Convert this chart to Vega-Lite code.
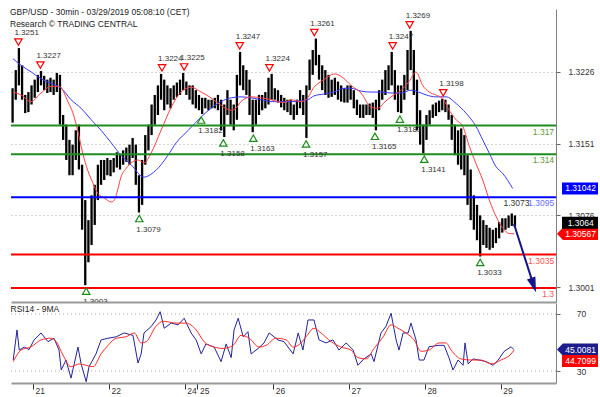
{
"$schema": "https://vega.github.io/schema/vega-lite/v6.json",
"padding": {"left": 10, "top": 8, "right": 0, "bottom": 0},
"background": "white",
"config": {"font": "Liberation Sans", "view": {"stroke": null}},
"title": {"text": ["GBP/USD - 30min - 03/29/2019 05:08:10 (CET)", "Research © TRADING CENTRAL"], "anchor": "start", "offset": -19, "fontSize": 8.5, "fontWeight": "normal", "color": "#222", "lineHeight": 11.5, "font": "Liberation Sans"},
"spacing": 1,
"datasets": {
"candles": [
{"t":-6.5,"hi":1.3209,"lo":1.3173},{"t":-5.5,"hi":1.3228,"lo":1.3197},{"t":-4.5,"hi":1.3251,"lo":1.3212},{"t":-3.5,"hi":1.3233,"lo":1.3197},{"t":-2.5,"hi":1.3202,"lo":1.3183},{"t":-1.5,"hi":1.3205,"lo":1.3184},{"t":-0.5,"hi":1.3212,"lo":1.3192},
{"t":0.5,"hi":1.3218,"lo":1.3199},{"t":1.5,"hi":1.3223,"lo":1.3205},{"t":2.5,"hi":1.3227,"lo":1.3212},{"t":3.5,"hi":1.3222,"lo":1.3207},{"t":4.5,"hi":1.3218,"lo":1.3204},{"t":5.5,"hi":1.3220,"lo":1.3205},{"t":6.5,"hi":1.3218,"lo":1.3202},{"t":7.5,"hi":1.3225,"lo":1.3205},{"t":8.5,"hi":1.3223,"lo":1.3171},{"t":9.5,"hi":1.3181,"lo":1.3155},{"t":10.5,"hi":1.3171,"lo":1.3134},{"t":11.5,"hi":1.3155,"lo":1.3118},{"t":12.5,"hi":1.3150,"lo":1.3118},{"t":13.5,"hi":1.3165,"lo":1.3134},{"t":14.5,"hi":1.3171,"lo":1.3124},{"t":15.5,"hi":1.3129,"lo":1.3061},{"t":16.5,"hi":1.3092,"lo":1.3003},{"t":17.5,"hi":1.3071,"lo":1.3027},{"t":18.5,"hi":1.3097,"lo":1.3045},{"t":19.5,"hi":1.3108,"lo":1.3066},{"t":20.5,"hi":1.3129,"lo":1.3092},{"t":21.5,"hi":1.3134,"lo":1.3108},{"t":22.5,"hi":1.3134,"lo":1.3113},{"t":23.5,"hi":1.3136,"lo":1.3118},
{"t":24.5,"hi":1.3134,"lo":1.3117},{"t":25.5,"hi":1.3136,"lo":1.3121},{"t":26.5,"hi":1.3142,"lo":1.3126},{"t":27.5,"hi":1.3139,"lo":1.3124},{"t":28.5,"hi":1.3144,"lo":1.3129},{"t":29.5,"hi":1.3147,"lo":1.3132},{"t":30.5,"hi":1.3150,"lo":1.3129},{"t":31.5,"hi":1.3157,"lo":1.3136},{"t":32.5,"hi":1.3150,"lo":1.3108},{"t":33.5,"hi":1.3118,"lo":1.3079},{"t":34.5,"hi":1.3134,"lo":1.3087},{"t":35.5,"hi":1.3160,"lo":1.3129},{"t":36.5,"hi":1.3171,"lo":1.3144},{"t":37.5,"hi":1.3192,"lo":1.3160},{"t":38.5,"hi":1.3202,"lo":1.3171},{"t":39.5,"hi":1.3212,"lo":1.3181},{"t":40.5,"hi":1.3224,"lo":1.3197},{"t":41.5,"hi":1.3218,"lo":1.3186},{"t":42.5,"hi":1.3212,"lo":1.3192},{"t":43.5,"hi":1.3209,"lo":1.3188},{"t":44.5,"hi":1.3212,"lo":1.3197},{"t":45.5,"hi":1.3215,"lo":1.3200},{"t":46.5,"hi":1.3218,"lo":1.3202},{"t":47.5,"hi":1.3225,"lo":1.3207},
{"t":48.5,"hi":1.3216,"lo":1.3202},{"t":49.5,"hi":1.3212,"lo":1.3197},{"t":50.5,"hi":1.3212,"lo":1.3192},{"t":51.5,"hi":1.3207,"lo":1.3188},
{"t":52.5,"hi":1.3202,"lo":1.3186},{"t":53.5,"hi":1.3199,"lo":1.3182},{"t":54.5,"hi":1.3199,"lo":1.3188},{"t":55.5,"hi":1.3197,"lo":1.3186},{"t":56.5,"hi":1.3197,"lo":1.3188},{"t":57.5,"hi":1.3199,"lo":1.3188},{"t":58.5,"hi":1.3202,"lo":1.3186},{"t":59.5,"hi":1.3197,"lo":1.3165},{"t":60.5,"hi":1.3192,"lo":1.3158},{"t":61.5,"hi":1.3207,"lo":1.3181},{"t":62.5,"hi":1.3197,"lo":1.3171},{"t":63.5,"hi":1.3192,"lo":1.3165},{"t":64.5,"hi":1.3223,"lo":1.3176},{"t":65.5,"hi":1.3247,"lo":1.3212},{"t":66.5,"hi":1.3233,"lo":1.3207},{"t":67.5,"hi":1.3228,"lo":1.3202},{"t":68.5,"hi":1.3218,"lo":1.3181},{"t":69.5,"hi":1.3197,"lo":1.3163},{"t":70.5,"hi":1.3197,"lo":1.3171},{"t":71.5,"hi":1.3202,"lo":1.3181},{"t":72.5,"hi":1.3202,"lo":1.3186},{"t":73.5,"hi":1.3205,"lo":1.3188},{"t":74.5,"hi":1.3220,"lo":1.3192},{"t":75.5,"hi":1.3224,"lo":1.3197},
{"t":76.5,"hi":1.3209,"lo":1.3197},{"t":77.5,"hi":1.3207,"lo":1.3194},{"t":78.5,"hi":1.3202,"lo":1.3189},{"t":79.5,"hi":1.3199,"lo":1.3186},{"t":80.5,"hi":1.3197,"lo":1.3184},{"t":81.5,"hi":1.3197,"lo":1.3181},{"t":82.5,"hi":1.3192,"lo":1.3176},{"t":83.5,"hi":1.3197,"lo":1.3181},{"t":84.5,"hi":1.3207,"lo":1.3188},{"t":85.5,"hi":1.3202,"lo":1.3181},{"t":86.5,"hi":1.3212,"lo":1.3157},{"t":87.5,"hi":1.3239,"lo":1.3207},{"t":88.5,"hi":1.3249,"lo":1.3223},{"t":89.5,"hi":1.3261,"lo":1.3233},{"t":90.5,"hi":1.3244,"lo":1.3218},{"t":91.5,"hi":1.3233,"lo":1.3207},{"t":92.5,"hi":1.3228,"lo":1.3202},{"t":93.5,"hi":1.3223,"lo":1.3199},{"t":94.5,"hi":1.3218,"lo":1.3200},{"t":95.5,"hi":1.3220,"lo":1.3202},{"t":96.5,"hi":1.3216,"lo":1.3197},{"t":97.5,"hi":1.3212,"lo":1.3195},{"t":98.5,"hi":1.3209,"lo":1.3194},{"t":99.5,"hi":1.3212,"lo":1.3194},
{"t":100.5,"hi":1.3212,"lo":1.3197},{"t":101.5,"hi":1.3207,"lo":1.3188},{"t":102.5,"hi":1.3197,"lo":1.3181},{"t":103.5,"hi":1.3192,"lo":1.3178},{"t":104.5,"hi":1.3192,"lo":1.3178},{"t":105.5,"hi":1.3192,"lo":1.3181},{"t":106.5,"hi":1.3193,"lo":1.3181},{"t":107.5,"hi":1.3194,"lo":1.3178},{"t":108.5,"hi":1.3197,"lo":1.3165},{"t":109.5,"hi":1.3207,"lo":1.3186},{"t":110.5,"hi":1.3218,"lo":1.3197},{"t":111.5,"hi":1.3228,"lo":1.3202},{"t":112.5,"hi":1.3233,"lo":1.3207},{"t":113.5,"hi":1.3247,"lo":1.3212},{"t":114.5,"hi":1.3228,"lo":1.3197},{"t":115.5,"hi":1.3212,"lo":1.3184},{"t":116.5,"hi":1.3212,"lo":1.3183},{"t":117.5,"hi":1.3223,"lo":1.3197},{"t":118.5,"hi":1.3249,"lo":1.3207},{"t":119.5,"hi":1.3269,"lo":1.3228},{"t":120.5,"hi":1.3249,"lo":1.3202},{"t":121.5,"hi":1.3218,"lo":1.3165},{"t":122.5,"hi":1.3186,"lo":1.3150},{"t":123.5,"hi":1.3171,"lo":1.3141},
{"t":124.5,"hi":1.3181,"lo":1.3155},{"t":125.5,"hi":1.3186,"lo":1.3171},{"t":126.5,"hi":1.3192,"lo":1.3178},{"t":127.5,"hi":1.3194,"lo":1.3180},{"t":128.5,"hi":1.3196,"lo":1.3184},{"t":129.5,"hi":1.3198,"lo":1.3186},{"t":130.5,"hi":1.3197,"lo":1.3184},{"t":131.5,"hi":1.3192,"lo":1.3176},{"t":132.5,"hi":1.3181,"lo":1.3155},{"t":133.5,"hi":1.3171,"lo":1.3139},{"t":134.5,"hi":1.3165,"lo":1.3129},{"t":135.5,"hi":1.3167,"lo":1.3124},{"t":136.5,"hi":1.3160,"lo":1.3118},{"t":137.5,"hi":1.3139,"lo":1.3087},{"t":138.5,"hi":1.3124,"lo":1.3071},{"t":139.5,"hi":1.3097,"lo":1.3061},{"t":140.5,"hi":1.3087,"lo":1.3050},{"t":141.5,"hi":1.3076,"lo":1.3033},{"t":142.5,"hi":1.3071,"lo":1.3045},{"t":143.5,"hi":1.3066,"lo":1.3042},{"t":144.5,"hi":1.3063,"lo":1.3040},{"t":145.5,"hi":1.3061,"lo":1.3042},{"t":146.5,"hi":1.3063,"lo":1.3047},{"t":147.5,"hi":1.3069,"lo":1.3052},
{"t":148.5,"hi":1.3073,"lo":1.3058},{"t":149.5,"hi":1.3073,"lo":1.3061},{"t":150.5,"hi":1.3076,"lo":1.3063},{"t":151.5,"hi":1.3078,"lo":1.3065},{"t":152.5,"hi":1.3076,"lo":1.3064}
],
"maFast": [
{"t":-6.4,"v":1.3205},{"t":-3.8,"v":1.3202},{"t":-0.7,"v":1.3195},{"t":2.5,"v":1.3204},{"t":5.7,"v":1.3211},{"t":8.3,"v":1.3211},{"t":11.0,"v":1.3195},{"t":12.6,"v":1.3183},{"t":14.1,"v":1.3165},{"t":15.7,"v":1.3141},{"t":17.3,"v":1.3123},{"t":18.9,"v":1.3110},{"t":20.5,"v":1.3099},{"t":22.6,"v":1.3094},{"t":24.7,"v":1.3090},{"t":25.7,"v":1.3092},{"t":26.8,"v":1.3103},{"t":27.8,"v":1.3116},{"t":29.4,"v":1.3125},{"t":31.5,"v":1.3132},{"t":33.1,"v":1.3134},{"t":35.2,"v":1.3131},{"t":37.3,"v":1.3141},{"t":40.5,"v":1.3165},{"t":43.7,"v":1.3189},{"t":46.8,"v":1.3205},{"t":50.0,"v":1.3210},{"t":53.2,"v":1.3205},{"t":56.3,"v":1.3199},{"t":59.5,"v":1.3191},{"t":62.7,"v":1.3186},{"t":64.2,"v":1.3188},{"t":65.8,"v":1.3195},{"t":69.0,"v":1.3200},{"t":72.2,"v":1.3199},{"t":75.3,"v":1.3197},{"t":79.4,"v":1.3194},{"t":81.6,"v":1.3197},{"t":84.8,"v":1.3195},{"t":86.4,"v":1.3197},{"t":88.9,"v":1.3210},{"t":92.1,"v":1.3218},{"t":95.3,"v":1.3224},{"t":98.1,"v":1.3220},{"t":100.6,"v":1.3212},{"t":103.8,"v":1.3204},{"t":107.0,"v":1.3189},{"t":109.2,"v":1.3188},{"t":111.1,"v":1.3194},{"t":113.3,"v":1.3200},{"t":116.5,"v":1.3207},{"t":119.0,"v":1.3216},{"t":121.2,"v":1.3226},{"t":123.3,"v":1.3212},{"t":125.4,"v":1.3205},{"t":127.5,"v":1.3202},{"t":129.7,"v":1.3198},{"t":131.7,"v":1.3186},{"t":133.9,"v":1.3176},{"t":136.0,"v":1.3169},{"t":138.1,"v":1.3148},{"t":140.2,"v":1.3130},{"t":142.3,"v":1.3113},{"t":144.4,"v":1.3092},{"t":146.5,"v":1.3075},{"t":148.6,"v":1.3063},{"t":150.7,"v":1.3057},{"t":152.3,"v":1.30567}
],
"maSlow": [
{"t":-6.4,"v":1.3240},{"t":-3.8,"v":1.3233},{"t":-0.6,"v":1.3226},{"t":2.5,"v":1.3219},{"t":5.7,"v":1.3214},{"t":8.9,"v":1.3209},{"t":12.0,"v":1.3197},{"t":15.2,"v":1.3188},{"t":18.4,"v":1.3176},{"t":21.5,"v":1.3165},{"t":24.7,"v":1.3152},{"t":27.8,"v":1.3139},{"t":31.0,"v":1.3129},{"t":35.1,"v":1.3116},{"t":37.3,"v":1.3119},{"t":40.5,"v":1.3129},{"t":42.7,"v":1.3139},{"t":45.3,"v":1.3152},{"t":49.1,"v":1.3165},{"t":53.2,"v":1.3179},{"t":56.3,"v":1.3188},{"t":59.5,"v":1.3195},{"t":62.7,"v":1.3199},{"t":65.8,"v":1.3200},{"t":69.0,"v":1.3199},{"t":72.2,"v":1.3197},{"t":75.3,"v":1.3195},{"t":81.6,"v":1.3195},{"t":86.9,"v":1.3197},{"t":88.9,"v":1.3201},{"t":92.1,"v":1.3203},{"t":95.3,"v":1.3205},{"t":98.4,"v":1.3209},{"t":100.6,"v":1.3209},{"t":103.8,"v":1.3206},{"t":107.0,"v":1.3205},{"t":110.1,"v":1.3205},{"t":113.3,"v":1.3204},{"t":116.5,"v":1.3204},{"t":119.6,"v":1.3207},{"t":122.8,"v":1.3204},{"t":124.4,"v":1.3202},{"t":127.5,"v":1.3200},{"t":130.7,"v":1.3200},{"t":133.9,"v":1.3193},{"t":137.0,"v":1.3183},{"t":140.2,"v":1.3169},{"t":142.3,"v":1.3155},{"t":144.4,"v":1.3141},{"t":146.5,"v":1.3127},{"t":148.6,"v":1.3120},{"t":151.8,"v":1.31042}
],
"levels": [
{"price":1.317,"label":"1.317","kind":"resistance"},{"price":1.314,"label":"1.314","kind":"resistance"},{"price":1.3095,"label":"1.3095","kind":"pivot"},{"price":1.3035,"label":"1.3035","kind":"support"},{"price":1.3,"label":"1.3","kind":"support"}
],
"pivots": [
{"t":-4.65,"price":1.3251,"label":"1.3251","type":"high"},{"t":2.3,"price":1.3227,"label":"1.3227","type":"high"},{"t":40.8,"price":1.3224,"label":"1.3224","type":"high"},{"t":47.8,"price":1.3225,"label":"1.3225","type":"high"},{"t":65.4,"price":1.3247,"label":"1.3247","type":"high"},{"t":74.8,"price":1.3224,"label":"1.3224","type":"high"},{"t":89.0,"price":1.3261,"label":"1.3261","type":"high"},{"t":113.8,"price":1.3247,"label":"1.3247","type":"high"},{"t":119.2,"price":1.3269,"label":"1.3269","type":"high"},{"t":129.8,"price":1.3198,"label":"1.3198","type":"high"},
{"t":16.8,"price":1.3003,"label":"1.3003","type":"low"},{"t":33.6,"price":1.3079,"label":"1.3079","type":"low"},{"t":53.2,"price":1.3182,"label":"1.3182","type":"low"},{"t":60.2,"price":1.3158,"label":"1.3158","type":"low"},{"t":69.7,"price":1.3163,"label":"1.3163","type":"low"},{"t":86.4,"price":1.3157,"label":"1.3157","type":"low"},{"t":108.2,"price":1.3165,"label":"1.3165","type":"low"},{"t":116.1,"price":1.3183,"label":"1.3183","type":"low"},{"t":123.8,"price":1.3141,"label":"1.3141","type":"low"},{"t":141.5,"price":1.3033,"label":"1.3033","type":"low"}
],
"forecast": [{"t":152.2,"price":1.3067},{"t":158.4,"price":1.3003}],
"rsi": [
{"t":-6.3,"v":37.7},{"t":-5.1,"v":58.8},{"t":-4.4,"v":44.7},{"t":-2.8,"v":46.8},{"t":-1.3,"v":45},{"t":0.3,"v":51.8},{"t":2.5,"v":56.7},{"t":4.7,"v":50.6},{"t":6.6,"v":53},{"t":8.2,"v":44.7},{"t":8.9,"v":30.7},{"t":10.4,"v":37.7},{"t":12.0,"v":25},{"t":14.2,"v":46.8},{"t":15.2,"v":35},{"t":16.8,"v":22.5},{"t":17.7,"v":33},{"t":19.9,"v":42},{"t":21.5,"v":51.8},{"t":23.7,"v":53},{"t":26.3,"v":54},{"t":28.8,"v":56.7},{"t":31.6,"v":55},{"t":33.2,"v":35.6},{"t":34.2,"v":42},{"t":35.1,"v":56.7},{"t":37.3,"v":61},{"t":38.9,"v":65.8},{"t":40.2,"v":71.6},{"t":41.5,"v":60},{"t":43.7,"v":63.6},{"t":45.9,"v":62.4},{"t":47.8,"v":67},{"t":50.0,"v":56.7},{"t":51.6,"v":51.8},{"t":53.2,"v":42},{"t":54.7,"v":49},{"t":57.3,"v":46.8},{"t":59.5,"v":36.6},{"t":61.1,"v":49},{"t":62.7,"v":39.4},{"t":63.6,"v":58.8},{"t":64.9,"v":67},{"t":66.5,"v":54},{"t":68.0,"v":57.6},{"t":69.0,"v":42},{"t":71.2,"v":45.8},{"t":73.1,"v":49.7},{"t":74.7,"v":56.7},{"t":77.5,"v":51.8},{"t":79.4,"v":50.6},{"t":82.3,"v":42},{"t":83.9,"v":56.7},{"t":85.4,"v":44.7},{"t":87.0,"v":65.8},{"t":88.9,"v":65.8},{"t":90.5,"v":51.8},{"t":92.7,"v":49.7},{"t":94.9,"v":51.8},{"t":96.8,"v":44.7},{"t":99.1,"v":49.7},{"t":101.3,"v":44.7},{"t":102.8,"v":34},{"t":104.7,"v":38.5},{"t":107.0,"v":42},{"t":107.9,"v":36.6},{"t":110.1,"v":56.7},{"t":111.7,"v":61.4},{"t":113.3,"v":70.5},{"t":114.9,"v":51.8},{"t":115.8,"v":44.7},{"t":117.1,"v":56.7},{"t":118.7,"v":56.7},{"t":119.6,"v":63.6},{"t":121.2,"v":51.8},{"t":122.2,"v":37.7},{"t":123.7,"v":37.7},{"t":125.3,"v":47},{"t":128.2,"v":48},{"t":130.1,"v":48},{"t":131.6,"v":39.4},{"t":132.9,"v":30.7},{"t":134.5,"v":37.7},{"t":136.1,"v":34},{"t":136.7,"v":49.7},{"t":137.7,"v":35},{"t":139.2,"v":38.5},{"t":141.1,"v":37.7},{"t":143.4,"v":36.6},{"t":145.6,"v":34},{"t":147.2,"v":37.7},{"t":149.1,"v":43.8},{"t":151.3,"v":47},{"t":152.2,"v":45.0081}
],
"rsiMa": [
{"t":-6.3,"v":36.6},{"t":-3.8,"v":44.7},{"t":-0.6,"v":47},{"t":2.5,"v":51.8},{"t":5.7,"v":53},{"t":7.3,"v":50.6},{"t":9.5,"v":41},{"t":12.0,"v":33},{"t":14.6,"v":35},{"t":16.8,"v":34},{"t":19.0,"v":33},{"t":21.5,"v":42},{"t":23.7,"v":48},{"t":26.3,"v":53},{"t":29.4,"v":54},{"t":32.0,"v":56.7},{"t":34.2,"v":49.7},{"t":35.8,"v":50.6},{"t":38.9,"v":61.4},{"t":41.1,"v":64.9},{"t":45.3,"v":63.6},{"t":48.4,"v":63.6},{"t":51.6,"v":58.8},{"t":54.1,"v":50.6},{"t":57.3,"v":46.8},{"t":60.1,"v":45.8},{"t":63.3,"v":48},{"t":65.8,"v":55},{"t":68.4,"v":53},{"t":71.5,"v":46.8},{"t":73.7,"v":48},{"t":76.9,"v":53},{"t":80.1,"v":51.8},{"t":82.3,"v":46.8},{"t":84.8,"v":49.7},{"t":86.4,"v":54},{"t":88.9,"v":60},{"t":91.1,"v":56.7},{"t":94.3,"v":50.6},{"t":97.5,"v":46.8},{"t":100.6,"v":44.7},{"t":102.8,"v":39.4},{"t":105.4,"v":38.5},{"t":107.9,"v":45.8},{"t":110.8,"v":54},{"t":113.3,"v":62.4},{"t":115.5,"v":60},{"t":118.0,"v":56.7},{"t":120.6,"v":51.8},{"t":122.8,"v":43.8},{"t":125.3,"v":44.7},{"t":128.5,"v":49.7},{"t":130.7,"v":49.7},{"t":132.3,"v":44.7},{"t":135.4,"v":38.5},{"t":138.6,"v":37.7},{"t":141.8,"v":37.7},{"t":144.9,"v":35},{"t":148.1,"v":37.7},{"t":151.3,"v":42},{"t":152.2,"v":44.7099}
]
},
"vconcat": [
{
"width": 545, "height": 293,
"layer": [
{"data": {"name": "candles"}, "mark": {"type": "rule", "strokeWidth": 2.3, "color": "#000"},
 "encoding": {
  "x": {"field": "t", "type": "quantitative", "scale": {"domain": [-7, 165.5], "nice": false, "zero": false}, "axis": {"title": null, "labels": false, "ticks": false, "grid": false, "domainColor": "#999", "domainWidth": 2}},
  "y": {"field": "hi", "type": "quantitative", "scale": {"domain": [1.29854, 1.32919], "nice": false, "zero": false}, "axis": {"orient": "right", "title": null, "values": [1.3001, 1.3076, 1.3151, 1.3226], "format": ".4f", "grid": true, "gridDash": [1, 3], "gridColor": "#aaa", "tickSize": 4, "tickColor": "#666", "domainColor": "#808080", "labelAlign": "center", "labelPadding": 21, "labelFontSize": 8.5, "labelColor": "#333"}},
  "y2": {"field": "lo"}}},
{"data": {"name": "maSlow"}, "mark": {"type": "line", "color": "#3a3aff", "strokeWidth": 1, "interpolate": "monotone"},
 "encoding": {"x": {"field": "t", "type": "quantitative"}, "y": {"field": "v", "type": "quantitative"}}},
{"data": {"name": "maFast"}, "mark": {"type": "line", "color": "#ff4040", "strokeWidth": 1, "interpolate": "monotone"},
 "encoding": {"x": {"field": "t", "type": "quantitative"}, "y": {"field": "v", "type": "quantitative"}}},
{"data": {"name": "levels"}, "mark": {"type": "rule", "strokeWidth": 2},
 "encoding": {"y": {"field": "price", "type": "quantitative"}, "stroke": {"field": "kind", "type": "nominal", "scale": {"domain": ["resistance", "pivot", "support"], "range": ["#1e8c1e", "#0000ff", "#ff0000"]}, "legend": null}}},
{"data": {"name": "levels"}, "mark": {"type": "text", "align": "right", "dy": 6, "fontSize": 8.5},
 "encoding": {"x": {"datum": 164.9}, "y": {"field": "price", "type": "quantitative"}, "text": {"field": "label"}, "fill": {"field": "kind", "type": "nominal", "scale": {"domain": ["resistance", "pivot", "support"], "range": ["#5e9a30", "#6b6bff", "#ff5050"]}, "legend": null}}},
{"data": {"values": [{"t": 157.1, "price": 1.3095, "label": "1.3073"}]}, "mark": {"type": "text", "align": "right", "dy": 6, "fontSize": 8.5, "color": "#333"},
 "encoding": {"x": {"field": "t", "type": "quantitative"}, "y": {"field": "price", "type": "quantitative"}, "text": {"field": "label"}}},
{"data": {"name": "pivots"}, "transform": [{"filter": "datum.type == 'high'"}], "mark": {"type": "point", "shape": "triangle-down", "filled": true, "fill": "white", "stroke": "#ff0000", "strokeWidth": 1.2, "size": 55, "yOffset": -6, "opacity": 1},
 "encoding": {"x": {"field": "t", "type": "quantitative"}, "y": {"field": "price", "type": "quantitative"}}},
{"data": {"name": "pivots"}, "transform": [{"filter": "datum.type == 'high'"}], "mark": {"type": "text", "align": "left", "dx": -4, "dy": -15, "fontSize": 8, "color": "#333"},
 "encoding": {"x": {"field": "t", "type": "quantitative"}, "y": {"field": "price", "type": "quantitative"}, "text": {"field": "label"}}},
{"data": {"name": "pivots"}, "transform": [{"filter": "datum.type == 'low'"}], "mark": {"type": "point", "shape": "triangle-up", "filled": true, "fill": "white", "stroke": "#1a8c1a", "strokeWidth": 1.2, "size": 55, "yOffset": 6, "opacity": 1},
 "encoding": {"x": {"field": "t", "type": "quantitative"}, "y": {"field": "price", "type": "quantitative"}}},
{"data": {"name": "pivots"}, "transform": [{"filter": "datum.type == 'low'"}], "mark": {"type": "text", "align": "left", "dx": -3, "dy": 17, "fontSize": 8, "color": "#333", "clip": true},
 "encoding": {"x": {"field": "t", "type": "quantitative"}, "y": {"field": "price", "type": "quantitative"}, "text": {"field": "label"}}},
{"data": {"name": "forecast"}, "mark": {"type": "line", "color": "#14148c", "strokeWidth": 2},
 "encoding": {"x": {"field": "t", "type": "quantitative"}, "y": {"field": "price", "type": "quantitative"}}},
{"data": {"name": "forecast"}, "transform": [{"filter": "datum.t > 155"}], "mark": {"type": "point", "shape": "M0,1L-0.6,-1L0.6,-1Z", "filled": true, "color": "#14148c", "size": 225, "angle": 341, "opacity": 1},
 "encoding": {"x": {"field": "t", "type": "quantitative"}, "y": {"field": "price", "type": "quantitative"}}},
{"data": {"values": [{"label": "1.30567", "price": 1.30567}]}, "mark": {"type": "point", "shape": "M-1,0L-0.71,-0.3L1,-0.3L1,0.3L-0.71,0.3Z", "filled": true, "color": "#ff0000", "size": 1681, "opacity": 1},
 "encoding": {"x": {"datum": 172.3}, "y": {"field": "price", "type": "quantitative"}}},
{"data": {"values": [{"label": "1.30567", "price": 1.30567}]}, "mark": {"type": "text", "fontSize": 8.5, "color": "white"},
 "encoding": {"x": {"datum": 173.3}, "y": {"field": "price", "type": "quantitative"}, "text": {"field": "label"}}},
{"data": {"values": [{"label": "1.3064", "price": 1.3064}]}, "mark": {"type": "point", "shape": "M-1,-0.333L1,-0.333L1,0.333L-1,0.333Z", "filled": true, "color": "#000", "size": 1296, "opacity": 1, "yOffset": -4},
 "encoding": {"x": {"datum": 173.1}, "y": {"field": "price", "type": "quantitative"}}},
{"data": {"values": [{"label": "1.3064", "price": 1.3064}]}, "mark": {"type": "text", "fontSize": 8.5, "color": "white", "yOffset": -4},
 "encoding": {"x": {"datum": 173.3}, "y": {"field": "price", "type": "quantitative"}, "text": {"field": "label"}}},
{"data": {"values": [{"label": "1.31042", "price": 1.31042}]}, "mark": {"type": "point", "shape": "M-1,-0.333L1,-0.333L1,0.333L-1,0.333Z", "filled": true, "color": "#0000ff", "size": 1296, "opacity": 1},
 "encoding": {"x": {"datum": 173.1}, "y": {"field": "price", "type": "quantitative"}}},
{"data": {"values": [{"label": "1.31042", "price": 1.31042}]}, "mark": {"type": "text", "fontSize": 8.5, "color": "white"},
 "encoding": {"x": {"datum": 173.3}, "y": {"field": "price", "type": "quantitative"}, "text": {"field": "label"}}}
]
},
{
"width": 545, "height": 80,
"title": {"text": "RSI14 - 9MA", "anchor": "start", "offset": -10, "fontSize": 8.5, "fontWeight": "normal", "color": "#222"},
"layer": [
{"data": {"values": [{"level": 30}, {"level": 70}]}, "mark": {"type": "rule", "color": "#aaa", "strokeDash": [1, 3], "strokeWidth": 1},
 "encoding": {"y": {"field": "level", "type": "quantitative"}}},
{"data": {"name": "rsi"}, "mark": {"type": "line", "color": "#23239a", "strokeWidth": 1},
 "encoding": {
  "x": {"field": "t", "type": "quantitative", "scale": {"domain": [-7, 165.5], "nice": false, "zero": false}, "axis": {"title": null, "values": [0, 24, 48, 52, 76, 100, 124, 148], "labelExpr": "datum.value < 48 ? 21 + datum.value / 24 : (datum.value < 52 ? 24 : 25 + (datum.value - 52) / 24)", "grid": false, "domainColor": "#999", "domainWidth": 2, "tickColor": "#333", "tickSize": 6, "labelAlign": "left", "labelBaseline": "top", "labelPadding": -3, "labelOffset": 2, "labelOverlap": false, "labelFlush": false, "labelFontSize": 8.5, "labelColor": "#333"}},
  "y": {"field": "v", "type": "quantitative", "scale": {"domain": [21.6, 77.7], "nice": false, "zero": false}, "axis": {"orient": "right", "title": null, "values": [30, 50, 70], "grid": false, "tickSize": 4, "tickColor": "#666", "domainColor": "#808080", "labelAlign": "center", "labelPadding": 21, "labelFontSize": 8.5, "labelColor": "#333"}}}},
{"data": {"name": "rsiMa"}, "mark": {"type": "line", "color": "#ff2a2a", "strokeWidth": 1, "interpolate": "monotone"},
 "encoding": {"x": {"field": "t", "type": "quantitative"}, "y": {"field": "v", "type": "quantitative"}}},
{"data": {"values": [{"label": "45.0081", "v": 45.0081}]}, "mark": {"type": "point", "shape": "M-1,0L-0.71,-0.3L1,-0.3L1,0.3L-0.71,0.3Z", "filled": true, "color": "#1c1c8c", "size": 1681, "opacity": 1},
 "encoding": {"x": {"datum": 172.3}, "y": {"field": "v", "type": "quantitative"}}},
{"data": {"values": [{"label": "45.0081", "v": 45.0081}]}, "mark": {"type": "text", "fontSize": 8.5, "color": "white"},
 "encoding": {"x": {"datum": 173.3}, "y": {"field": "v", "type": "quantitative"}, "text": {"field": "label"}}},
{"data": {"values": [{"label": "44.7099", "v": 44.7099}]}, "mark": {"type": "point", "shape": "M-1,-0.333L1,-0.333L1,0.333L-1,0.333Z", "filled": true, "color": "#ff0000", "size": 1296, "opacity": 1, "yOffset": 11},
 "encoding": {"x": {"datum": 173.1}, "y": {"field": "v", "type": "quantitative"}}},
{"data": {"values": [{"label": "44.7099", "v": 44.7099}]}, "mark": {"type": "text", "fontSize": 8.5, "color": "white", "yOffset": 11},
 "encoding": {"x": {"datum": 173.3}, "y": {"field": "v", "type": "quantitative"}, "text": {"field": "label"}}}
]
}
]
}
